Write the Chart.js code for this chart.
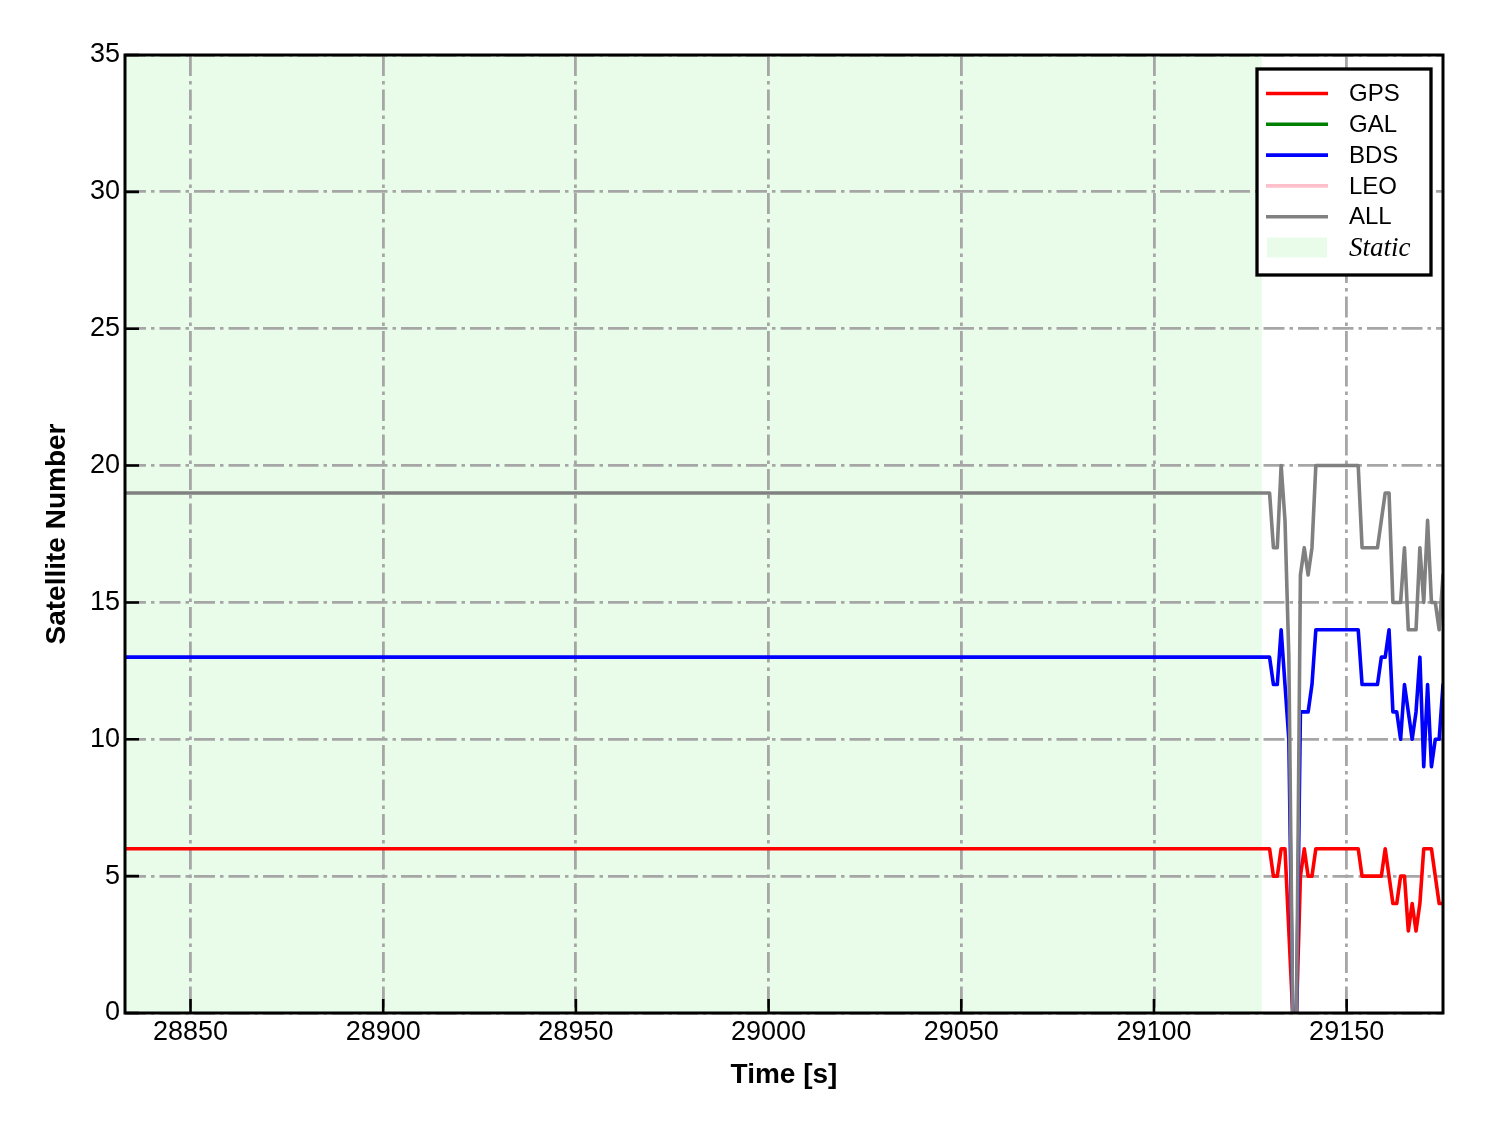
<!DOCTYPE html>
<html>
<head>
<meta charset="utf-8">
<script src="https://cdn.jsdelivr.net/npm/chart.js@4.4.1/dist/chart.umd.min.js"></script>
<style>
  html, body { margin: 0; padding: 0; background: #ffffff; }
  #wrap { width: 1488px; height: 1133px; }
</style>
</head>
<body>
<div id="wrap"><canvas id="chart" width="1488" height="1133"></canvas></div>
<script>
// time of each epoch [s] (static part is flat, so only its ends are listed)
const timeSec = [28833, 29128, 29129, 29130, 29131, 29132, 29133, 29134, 29135, 29136,
  29137, 29138, 29139, 29140, 29141, 29142, 29143, 29144, 29145, 29146,
  29147, 29148, 29149, 29150, 29151, 29152, 29153, 29154, 29155, 29156,
  29157, 29158, 29159, 29160, 29161, 29162, 29163, 29164, 29165, 29166,
  29167, 29168, 29169, 29170, 29171, 29172, 29173, 29174, 29175];

const gpsNum = [6, 6, 6, 6, 5, 5, 6, 6, 3, 0,
  0, 5, 6, 5, 5, 6, 6, 6, 6, 6,
  6, 6, 6, 6, 6, 6, 6, 5, 5, 5,
  5, 5, 5, 6, 5, 4, 4, 5, 5, 3,
  4, 3, 4, 6, 6, 6, 5, 4, 4];

const bdsNum = [13, 13, 13, 13, 12, 12, 14, 12, 10, 0,
  0, 11, 11, 11, 12, 14, 14, 14, 14, 14,
  14, 14, 14, 14, 14, 14, 14, 12, 12, 12,
  12, 12, 13, 13, 14, 11, 11, 10, 12, 11,
  10, 11, 13, 9, 12, 9, 10, 10, 12];

const allNum = [19, 19, 19, 19, 17, 17, 20, 18, 13, 0,
  0, 16, 17, 16, 17, 20, 20, 20, 20, 20,
  20, 20, 20, 20, 20, 20, 20, 17, 17, 17,
  17, 17, 18, 19, 19, 15, 15, 15, 17, 14,
  14, 14, 17, 15, 18, 15, 15, 14, 16];

// GAL and LEO have no satellites in this span
const galNum = [];
const leoNum = [];

const staticSpan = [28833, 29128];
const xTicks = [28850, 28900, 28950, 29000, 29050, 29100, 29150];
const yTicks = [0, 5, 10, 15, 20, 25, 30, 35];

const staticColor = 'rgba(144,238,144,0.2)';

function pts(vals) {
  return vals.map((v, i) => ({ x: timeSec[i], y: v }));
}

function series(label, vals, color, order) {
  return {
    label: label,
    data: pts(vals),
    borderColor: color,
    backgroundColor: color,
    borderWidth: 3.6,
    borderJoinStyle: 'round',
    borderCapStyle: 'round',
    pointRadius: 0,
    tension: 0,
    order: order
  };
}

const staticShade = {
  id: 'staticShade',
  beforeDraw(chart) {
    const { ctx, chartArea, scales } = chart;
    ctx.save();
    ctx.fillStyle = '#ffffff';
    ctx.fillRect(0, 0, chart.width, chart.height);
    const x1 = scales.x.getPixelForValue(staticSpan[0]);
    const x2 = scales.x.getPixelForValue(staticSpan[1]);
    ctx.fillStyle = staticColor;
    ctx.fillRect(x1, chartArea.top, x2 - x1, chartArea.bottom - chartArea.top);
    ctx.restore();
  }
};

const frameAndTicks = {
  id: 'frameAndTicks',
  afterDatasetsDraw(chart) {
    const { ctx, chartArea, scales } = chart;
    ctx.save();
    ctx.strokeStyle = '#000000';
    ctx.lineWidth = 2.6;
    ctx.beginPath();
    xTicks.forEach(t => {
      const px = scales.x.getPixelForValue(t);
      ctx.moveTo(px, chartArea.bottom);
      ctx.lineTo(px, chartArea.bottom - 14);
    });
    yTicks.forEach(t => {
      const py = scales.y.getPixelForValue(t);
      ctx.moveTo(chartArea.left, py);
      ctx.lineTo(chartArea.left + 14, py);
    });
    ctx.stroke();
    ctx.lineWidth = 3;
    ctx.strokeRect(chartArea.left, chartArea.top,
      chartArea.right - chartArea.left, chartArea.bottom - chartArea.top);
    ctx.restore();
  }
};

const boxLegend = {
  id: 'boxLegend',
  afterDraw(chart) {
    const { ctx, chartArea } = chart;
    const right = chartArea.right - 12;
    const top = chartArea.top + 14;
    const w = 174, h = 206;
    const left = right - w;
    ctx.save();
    ctx.fillStyle = '#ffffff';
    ctx.fillRect(left, top, w, h);
    ctx.strokeStyle = '#000000';
    ctx.lineWidth = 3.3;
    ctx.strokeRect(left, top, w, h);

    const byLabel = {};
    chart.data.datasets.forEach(d => { byLabel[d.label] = d; });
    const rows = ['GPS', 'GAL', 'BDS', 'LEO', 'ALL'];
    ctx.textBaseline = 'middle';
    ctx.textAlign = 'left';
    rows.forEach((lab, i) => {
      const y = top + 24.5 + i * 30.8;
      ctx.strokeStyle = byLabel[lab].borderColor;
      ctx.lineWidth = 3.6;
      ctx.beginPath();
      ctx.moveTo(left + 9, y);
      ctx.lineTo(left + 71, y);
      ctx.stroke();
      ctx.fillStyle = '#000000';
      ctx.font = '24px "Liberation Sans", Arial, sans-serif';
      ctx.fillText(lab, left + 92, y + 1);
    });
    const ys = top + 24.5 + 5 * 30.8;
    ctx.fillStyle = staticColor;
    ctx.fillRect(left + 10, ys - 10, 60, 20);
    ctx.fillStyle = '#000000';
    ctx.font = 'italic 27px "Liberation Serif", "Times New Roman", serif';
    ctx.fillText('Static', left + 92, ys + 1);
    ctx.restore();
  }
};

const ctx = document.getElementById('chart').getContext('2d');
new Chart(ctx, {
  type: 'line',
  data: {
    datasets: [
      series('GPS', gpsNum, '#ff0000', 4),
      series('GAL', galNum, '#008000', 3),
      series('BDS', bdsNum, '#0000ff', 2),
      series('LEO', leoNum, '#ffc0cb', 1),
      series('ALL', allNum, '#808080', 0)
    ]
  },
  options: {
    responsive: false,
    animation: false,
    devicePixelRatio: 1,
    layout: { padding: { top: 55, right: 45, left: 0, bottom: 0 } },
    plugins: {
      legend: { display: false },
      tooltip: { enabled: false }
    },
    scales: {
      x: {
        type: 'linear',
        min: 28833,
        max: 29175,
        afterFit(scale) { scale.height = 120; },
        afterBuildTicks(scale) { scale.ticks = xTicks.map(v => ({ value: v })); },
        ticks: {
          includeBounds: false,
          color: '#000000',
          padding: 3,
          maxRotation: 0,
          font: { family: '"Liberation Sans", Arial, sans-serif', size: 27 },
          callback: v => String(v)
        },
        grid: { color: '#a6a6a6', lineWidth: 2.8, drawTicks: false },
        border: { display: false, dash: [21, 5, 3.5, 5] },
        title: {
          display: true,
          text: 'Time [s]',
          color: '#000000',
          padding: { top: 0, bottom: 41 },
          font: { family: '"Liberation Sans", Arial, sans-serif', size: 28, weight: 'bold' }
        }
      },
      y: {
        min: 0,
        max: 35,
        afterFit(scale) { scale.width = 125; },
        afterBuildTicks(scale) { scale.ticks = yTicks.map(v => ({ value: v })); },
        ticks: {
          color: '#000000',
          padding: 5,
          font: { family: '"Liberation Sans", Arial, sans-serif', size: 27 }
        },
        grid: { color: '#a6a6a6', lineWidth: 2.8, drawTicks: false },
        border: { display: false, dash: [21, 5, 3.5, 5] },
        title: {
          display: true,
          text: 'Satellite Number',
          color: '#000000',
          padding: { top: 40, bottom: 0 },
          font: { family: '"Liberation Sans", Arial, sans-serif', size: 28, weight: 'bold' }
        }
      }
    }
  },
  plugins: [staticShade, frameAndTicks, boxLegend]
});
</script>
</body>
</html>
